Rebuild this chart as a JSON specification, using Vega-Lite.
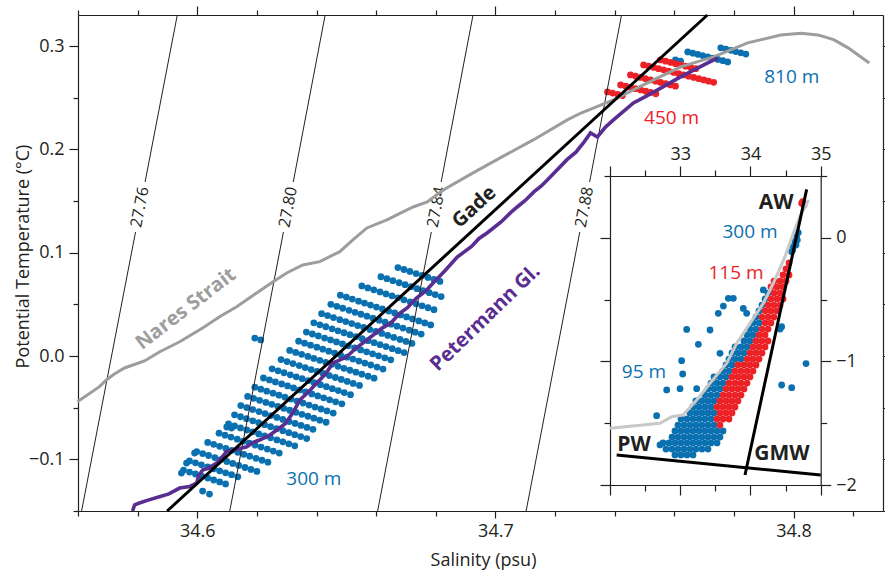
{
"$schema":"https://vega.github.io/schema/vega-lite/v6.json",
"width":805,"height":496,
"autosize":{"type":"none"},
"padding":{"left":78,"top":15,"right":2,"bottom":62},
"background":"#ffffff",
"config":{"view":{"stroke":null},"font":"Open Sans",
 "axis":{"domainColor":"#231f20","tickColor":"#231f20","domainWidth":1.2,"tickWidth":1.2,"labelColor":"#231f20","labelFontSize":18,"labelFont":"Open Sans","grid":false,"labelOverlap":false,"labelFlush":false,"titleFont":"Open Sans","titleFontSize":18,"titleFontWeight":"normal","titleColor":"#231f20"}},
"datasets":{
"iso":[
{"id":"a1","s":34.5612,"t":-0.15},{"id":"a1","s":34.5793,"t":0.12},
{"id":"a2","s":34.5825,"t":0.1684},{"id":"a2","s":34.5933,"t":0.33},
{"id":"b1","s":34.6109,"t":-0.15},{"id":"b1","s":34.6289,"t":0.12},
{"id":"b2","s":34.6322,"t":0.1684},{"id":"b2","s":34.6429,"t":0.33},
{"id":"c1","s":34.6605,"t":-0.15},{"id":"c1","s":34.6785,"t":0.12},
{"id":"c2","s":34.6818,"t":0.1684},{"id":"c2","s":34.6925,"t":0.33},
{"id":"d1","s":34.7103,"t":-0.15},{"id":"d1","s":34.7283,"t":0.12},
{"id":"d2","s":34.7316,"t":0.1684},{"id":"d2","s":34.7423,"t":0.33}],
"iso_lab":[{"s":34.5808,"t":0.144,"label":"27.76"},{"s":34.6305,"t":0.144,"label":"27.80"},{"s":34.6802,"t":0.144,"label":"27.84"},{"s":34.7299,"t":0.144,"label":"27.88"}],
"gade":[{"s":34.5899,"t":-0.15},{"s":34.7711,"t":0.33}],
"nares":[
{"s":34.5598,"t":-0.0442},{"s":34.5672,"t":-0.0297},{"s":34.5695,"t":-0.0232},{"s":34.5722,"t":-0.0174},{"s":34.5756,"t":-0.0116},{"s":34.5823,"t":-0.0048},{"s":34.5873,"t":0.0039},{"s":34.5941,"t":0.0138},{"s":34.6018,"t":0.0271},{"s":34.6075,"t":0.038},{"s":34.6132,"t":0.0477},{"s":34.6199,"t":0.061},{"s":34.6253,"t":0.0716},{"s":34.63,"t":0.0803},{"s":34.6354,"t":0.0881},{"s":34.6411,"t":0.0913},{"s":34.6478,"t":0.101},{"s":34.6522,"t":0.1123},{"s":34.6569,"t":0.1239},{"s":34.6636,"t":0.1317},{"s":34.6724,"t":0.1442},{"s":34.6771,"t":0.1491},{"s":34.6825,"t":0.1607},{"s":34.6925,"t":0.1772},{"s":34.7016,"t":0.1917},{"s":34.7127,"t":0.2091},{"s":34.7241,"t":0.2285},{"s":34.7285,"t":0.2349},{"s":34.7396,"t":0.2478},{"s":34.751,"t":0.2643},{"s":34.7621,"t":0.2798},{"s":34.7732,"t":0.2894},{"s":34.7846,"t":0.303},{"s":34.7957,"t":0.3107},{"s":34.8025,"t":0.3124},{"s":34.8082,"t":0.3107},{"s":34.8102,"t":0.3091},{"s":34.8136,"t":0.3059},{"s":34.8183,"t":0.2982},{"s":34.8254,"t":0.2836}],
"peter":[
{"s":34.5783,"t":-0.15},{"s":34.579,"t":-0.144},{"s":34.5806,"t":-0.1423},{"s":34.5835,"t":-0.1395},{"s":34.5873,"t":-0.1362},{"s":34.5905,"t":-0.1335},{"s":34.5941,"t":-0.1278},{"s":34.5975,"t":-0.1262},{"s":34.5998,"t":-0.1229},{"s":34.6005,"t":-0.116},{"s":34.6018,"t":-0.1104},{"s":34.604,"t":-0.1082},{"s":34.6065,"t":-0.1036},{"s":34.608,"t":-0.099},{"s":34.6098,"t":-0.0926},{"s":34.613,"t":-0.0905},{"s":34.6166,"t":-0.0878},{"s":34.6185,"t":-0.0838},{"s":34.6209,"t":-0.0813},{"s":34.624,"t":-0.0772},{"s":34.6267,"t":-0.0716},{"s":34.6295,"t":-0.0655},{"s":34.632,"t":-0.0552},{"s":34.6344,"t":-0.0426},{"s":34.637,"t":-0.0355},{"s":34.6401,"t":-0.0261},{"s":34.643,"t":-0.0175},{"s":34.6455,"t":-0.0068},{"s":34.65,"t":-0.001},{"s":34.6535,"t":0.0082},{"s":34.6569,"t":0.0155},{"s":34.662,"t":0.027},{"s":34.665,"t":0.0322},{"s":34.668,"t":0.0416},{"s":34.6705,"t":0.0468},{"s":34.6735,"t":0.056},{"s":34.6765,"t":0.0625},{"s":34.6791,"t":0.0707},{"s":34.683,"t":0.0822},{"s":34.6872,"t":0.0958},{"s":34.692,"t":0.106},{"s":34.6945,"t":0.1138},{"s":34.6972,"t":0.1191},{"s":34.702,"t":0.13},{"s":34.705,"t":0.1385},{"s":34.7073,"t":0.1442},{"s":34.71,"t":0.1505},{"s":34.713,"t":0.159},{"s":34.7155,"t":0.1648},{"s":34.7184,"t":0.1733},{"s":34.724,"t":0.19},{"s":34.727,"t":0.1972},{"s":34.7295,"t":0.2062},{"s":34.7319,"t":0.2159},{"s":34.7342,"t":0.212},{"s":34.737,"t":0.2218},{"s":34.7396,"t":0.2285},{"s":34.7463,"t":0.2449},{"s":34.75,"t":0.2505},{"s":34.7544,"t":0.2575},{"s":34.7621,"t":0.2701},{"s":34.7699,"t":0.2817},{"s":34.7746,"t":0.2885}],
"blue_main":[
{"s":34.5954,"t":-0.1104},{"s":34.5974,"t":-0.1123},{"s":34.5994,"t":-0.1142},{"s":34.6015,"t":-0.1162},{"s":34.6035,"t":-0.1181},{"s":34.6055,"t":-0.12},{"s":34.6075,"t":-0.1219},{"s":34.6095,"t":-0.1238},
{"s":34.5974,"t":-0.1015},{"s":34.5994,"t":-0.1034},{"s":34.6014,"t":-0.1053},{"s":34.6035,"t":-0.1073},{"s":34.6055,"t":-0.1092},{"s":34.6075,"t":-0.1111},{"s":34.6095,"t":-0.113},{"s":34.6115,"t":-0.1149},{"s":34.6136,"t":-0.1169},
{"s":34.5998,"t":-0.0925},{"s":34.6018,"t":-0.0944},{"s":34.6038,"t":-0.0963},{"s":34.6059,"t":-0.0983},{"s":34.6079,"t":-0.1002},{"s":34.6099,"t":-0.1021},{"s":34.6119,"t":-0.104},{"s":34.6139,"t":-0.1059},{"s":34.616,"t":-0.1079},{"s":34.618,"t":-0.1098},{"s":34.62,"t":-0.1117},
{"s":34.6035,"t":-0.0836},{"s":34.6055,"t":-0.0855},{"s":34.6075,"t":-0.0874},{"s":34.6096,"t":-0.0894},{"s":34.6116,"t":-0.0913},{"s":34.6136,"t":-0.0932},{"s":34.6156,"t":-0.0951},{"s":34.6176,"t":-0.097},{"s":34.6197,"t":-0.099},{"s":34.6217,"t":-0.1009},{"s":34.6237,"t":-0.1028},
{"s":34.6073,"t":-0.0747},{"s":34.6093,"t":-0.0766},{"s":34.6113,"t":-0.0785},{"s":34.6134,"t":-0.0805},{"s":34.6154,"t":-0.0824},{"s":34.6174,"t":-0.0843},{"s":34.6194,"t":-0.0862},{"s":34.6214,"t":-0.0881},{"s":34.6235,"t":-0.0901},{"s":34.6255,"t":-0.092},{"s":34.6275,"t":-0.0939},
{"s":34.6105,"t":-0.0658},{"s":34.6125,"t":-0.0677},{"s":34.6145,"t":-0.0696},{"s":34.6166,"t":-0.0716},{"s":34.6186,"t":-0.0735},{"s":34.6206,"t":-0.0754},{"s":34.6226,"t":-0.0773},{"s":34.6246,"t":-0.0792},{"s":34.6267,"t":-0.0812},{"s":34.6287,"t":-0.0831},{"s":34.6307,"t":-0.085},{"s":34.6327,"t":-0.0869},
{"s":34.6125,"t":-0.0569},{"s":34.6145,"t":-0.0588},{"s":34.6165,"t":-0.0607},{"s":34.6186,"t":-0.0627},{"s":34.6206,"t":-0.0646},{"s":34.6226,"t":-0.0665},{"s":34.6246,"t":-0.0684},{"s":34.6266,"t":-0.0703},{"s":34.6287,"t":-0.0723},{"s":34.6307,"t":-0.0742},{"s":34.6327,"t":-0.0761},{"s":34.6347,"t":-0.078},{"s":34.6367,"t":-0.0799},
{"s":34.6146,"t":-0.048},{"s":34.6166,"t":-0.0499},{"s":34.6186,"t":-0.0518},{"s":34.6207,"t":-0.0538},{"s":34.6227,"t":-0.0557},{"s":34.6247,"t":-0.0576},{"s":34.6267,"t":-0.0595},{"s":34.6287,"t":-0.0614},{"s":34.6308,"t":-0.0634},{"s":34.6328,"t":-0.0653},{"s":34.6348,"t":-0.0672},{"s":34.6368,"t":-0.0691},{"s":34.6388,"t":-0.071},
{"s":34.6169,"t":-0.0391},{"s":34.6189,"t":-0.041},{"s":34.6209,"t":-0.0429},{"s":34.623,"t":-0.0449},{"s":34.625,"t":-0.0468},{"s":34.627,"t":-0.0487},{"s":34.629,"t":-0.0506},{"s":34.631,"t":-0.0525},{"s":34.6331,"t":-0.0545},{"s":34.6351,"t":-0.0564},{"s":34.6371,"t":-0.0583},{"s":34.6391,"t":-0.0602},{"s":34.6411,"t":-0.0621},{"s":34.6432,"t":-0.0641},
{"s":34.6193,"t":-0.0302},{"s":34.6213,"t":-0.0321},{"s":34.6233,"t":-0.034},{"s":34.6254,"t":-0.036},{"s":34.6274,"t":-0.0379},{"s":34.6294,"t":-0.0398},{"s":34.6314,"t":-0.0417},{"s":34.6334,"t":-0.0436},{"s":34.6355,"t":-0.0456},{"s":34.6375,"t":-0.0475},{"s":34.6395,"t":-0.0494},{"s":34.6415,"t":-0.0513},{"s":34.6435,"t":-0.0532},{"s":34.6456,"t":-0.0552},
{"s":34.6222,"t":-0.0213},{"s":34.6242,"t":-0.0232},{"s":34.6262,"t":-0.0251},{"s":34.6283,"t":-0.0271},{"s":34.6303,"t":-0.029},{"s":34.6323,"t":-0.0309},{"s":34.6343,"t":-0.0328},{"s":34.6363,"t":-0.0347},{"s":34.6384,"t":-0.0367},{"s":34.6404,"t":-0.0386},{"s":34.6424,"t":-0.0405},{"s":34.6444,"t":-0.0424},{"s":34.6464,"t":-0.0443},{"s":34.6485,"t":-0.0463},
{"s":34.6251,"t":-0.0124},{"s":34.6271,"t":-0.0143},{"s":34.6291,"t":-0.0162},{"s":34.6312,"t":-0.0182},{"s":34.6332,"t":-0.0201},{"s":34.6352,"t":-0.022},{"s":34.6372,"t":-0.0239},{"s":34.6392,"t":-0.0258},{"s":34.6413,"t":-0.0278},{"s":34.6433,"t":-0.0297},{"s":34.6453,"t":-0.0316},{"s":34.6473,"t":-0.0335},{"s":34.6493,"t":-0.0354},{"s":34.6514,"t":-0.0374},
{"s":34.6281,"t":-0.0035},{"s":34.6301,"t":-0.0054},{"s":34.6321,"t":-0.0073},{"s":34.6342,"t":-0.0093},{"s":34.6362,"t":-0.0112},{"s":34.6382,"t":-0.0131},{"s":34.6402,"t":-0.015},{"s":34.6422,"t":-0.0169},{"s":34.6443,"t":-0.0189},{"s":34.6463,"t":-0.0208},{"s":34.6483,"t":-0.0227},{"s":34.6503,"t":-0.0246},{"s":34.6523,"t":-0.0265},{"s":34.6544,"t":-0.0285},
{"s":34.631,"t":0.0054},{"s":34.633,"t":0.0035},{"s":34.635,"t":0.0016},{"s":34.6371,"t":-0.0004},{"s":34.6391,"t":-0.0023},{"s":34.6411,"t":-0.0042},{"s":34.6431,"t":-0.0061},{"s":34.6451,"t":-0.008},{"s":34.6472,"t":-0.01},{"s":34.6492,"t":-0.0119},{"s":34.6512,"t":-0.0138},{"s":34.6532,"t":-0.0157},{"s":34.6552,"t":-0.0176},{"s":34.6573,"t":-0.0196},{"s":34.6593,"t":-0.0215},
{"s":34.634,"t":0.0143},{"s":34.636,"t":0.0124},{"s":34.638,"t":0.0105},{"s":34.6401,"t":0.0085},{"s":34.6421,"t":0.0066},{"s":34.6441,"t":0.0047},{"s":34.6461,"t":0.0028},{"s":34.6481,"t":0.0009},{"s":34.6502,"t":-0.0011},{"s":34.6522,"t":-0.003},{"s":34.6542,"t":-0.0049},{"s":34.6562,"t":-0.0068},{"s":34.6582,"t":-0.0087},{"s":34.6603,"t":-0.0107},{"s":34.6623,"t":-0.0126},
{"s":34.6366,"t":0.0232},{"s":34.6386,"t":0.0213},{"s":34.6406,"t":0.0194},{"s":34.6427,"t":0.0174},{"s":34.6447,"t":0.0155},{"s":34.6467,"t":0.0136},{"s":34.6487,"t":0.0117},{"s":34.6507,"t":0.0098},{"s":34.6528,"t":0.0078},{"s":34.6548,"t":0.0059},{"s":34.6568,"t":0.004},{"s":34.6588,"t":0.0021},{"s":34.6608,"t":0.0002},{"s":34.6629,"t":-0.0018},{"s":34.6649,"t":-0.0037},
{"s":34.6391,"t":0.0321},{"s":34.6411,"t":0.0302},{"s":34.6431,"t":0.0283},{"s":34.6452,"t":0.0263},{"s":34.6472,"t":0.0244},{"s":34.6492,"t":0.0225},{"s":34.6512,"t":0.0206},{"s":34.6532,"t":0.0187},{"s":34.6553,"t":0.0167},{"s":34.6573,"t":0.0148},{"s":34.6593,"t":0.0129},{"s":34.6613,"t":0.011},{"s":34.6633,"t":0.0091},{"s":34.6654,"t":0.0071},{"s":34.6674,"t":0.0052},{"s":34.6694,"t":0.0033},
{"s":34.6417,"t":0.041},{"s":34.6437,"t":0.0391},{"s":34.6457,"t":0.0372},{"s":34.6478,"t":0.0352},{"s":34.6498,"t":0.0333},{"s":34.6518,"t":0.0314},{"s":34.6538,"t":0.0295},{"s":34.6558,"t":0.0276},{"s":34.6579,"t":0.0256},{"s":34.6599,"t":0.0237},{"s":34.6619,"t":0.0218},{"s":34.6639,"t":0.0199},{"s":34.6659,"t":0.018},{"s":34.668,"t":0.016},{"s":34.67,"t":0.0141},{"s":34.672,"t":0.0122},
{"s":34.6448,"t":0.05},{"s":34.6468,"t":0.0481},{"s":34.6488,"t":0.0462},{"s":34.6509,"t":0.0442},{"s":34.6529,"t":0.0423},{"s":34.6549,"t":0.0404},{"s":34.6569,"t":0.0385},{"s":34.6589,"t":0.0366},{"s":34.661,"t":0.0346},{"s":34.663,"t":0.0327},{"s":34.665,"t":0.0308},{"s":34.667,"t":0.0289},{"s":34.669,"t":0.027},{"s":34.6711,"t":0.025},{"s":34.6731,"t":0.0231},{"s":34.6751,"t":0.0212},
{"s":34.648,"t":0.0589},{"s":34.65,"t":0.057},{"s":34.652,"t":0.0551},{"s":34.6541,"t":0.0531},{"s":34.6561,"t":0.0512},{"s":34.6581,"t":0.0493},{"s":34.6601,"t":0.0474},{"s":34.6621,"t":0.0455},{"s":34.6642,"t":0.0435},{"s":34.6662,"t":0.0416},{"s":34.6682,"t":0.0397},{"s":34.6702,"t":0.0378},{"s":34.6722,"t":0.0359},{"s":34.6743,"t":0.0339},{"s":34.6763,"t":0.032},{"s":34.6783,"t":0.0301},
{"s":34.6552,"t":0.0678},{"s":34.6572,"t":0.0659},{"s":34.6592,"t":0.064},{"s":34.6613,"t":0.062},{"s":34.6633,"t":0.0601},{"s":34.6653,"t":0.0582},{"s":34.6673,"t":0.0563},{"s":34.6693,"t":0.0544},{"s":34.6714,"t":0.0524},{"s":34.6734,"t":0.0505},{"s":34.6754,"t":0.0486},{"s":34.6774,"t":0.0467},{"s":34.6794,"t":0.0448},
{"s":34.6616,"t":0.0767},{"s":34.6636,"t":0.0748},{"s":34.6656,"t":0.0729},{"s":34.6677,"t":0.0709},{"s":34.6697,"t":0.069},{"s":34.6717,"t":0.0671},{"s":34.6737,"t":0.0652},{"s":34.6757,"t":0.0633},{"s":34.6778,"t":0.0613},{"s":34.6798,"t":0.0594},{"s":34.6818,"t":0.0575},
{"s":34.6673,"t":0.0856},{"s":34.6693,"t":0.0837},{"s":34.6713,"t":0.0818},{"s":34.6734,"t":0.0798},{"s":34.6754,"t":0.0779},{"s":34.6774,"t":0.076},{"s":34.6794,"t":0.0741},{"s":34.6814,"t":0.0722},
{"s":34.6193,"t":0.0174},{"s":34.6213,"t":0.0155},{"s":34.6018,"t":-0.1307},{"s":34.6041,"t":-0.1336},{"s":34.5991,"t":-0.0939},{"s":34.6099,"t":-0.0687},{"s":34.6115,"t":-0.0697},{"s":34.5964,"t":-0.1036},{"s":34.5947,"t":-0.1133},
{"s":34.7604,"t":0.2865},{"s":34.7621,"t":0.2853},
{"s":34.7645,"t":0.2943},{"s":34.7662,"t":0.2931},{"s":34.7679,"t":0.2919},{"s":34.7695,"t":0.2907},{"s":34.7712,"t":0.2895},{"s":34.7729,"t":0.2883},{"s":34.7746,"t":0.287},{"s":34.7763,"t":0.2858},{"s":34.7779,"t":0.2846},
{"s":34.7756,"t":0.2982},{"s":34.7773,"t":0.297},{"s":34.779,"t":0.2958},{"s":34.7806,"t":0.2946},{"s":34.7823,"t":0.2934},{"s":34.784,"t":0.2922}],
"red_main":[
{"s":34.7376,"t":0.2556},{"s":34.7393,"t":0.2544},{"s":34.741,"t":0.2532},{"s":34.7426,"t":0.252},
{"s":34.742,"t":0.2623},{"s":34.7437,"t":0.2611},{"s":34.7454,"t":0.2599},{"s":34.747,"t":0.2587},{"s":34.7487,"t":0.2575},{"s":34.7504,"t":0.2563},{"s":34.7521,"t":0.255},{"s":34.7538,"t":0.2538},
{"s":34.7453,"t":0.272},{"s":34.747,"t":0.2708},{"s":34.7487,"t":0.2696},{"s":34.7503,"t":0.2684},{"s":34.752,"t":0.2672},{"s":34.7537,"t":0.266},{"s":34.7554,"t":0.2647},{"s":34.7571,"t":0.2635},{"s":34.7587,"t":0.2623},{"s":34.7604,"t":0.2611},
{"s":34.7497,"t":0.2817},{"s":34.7514,"t":0.2805},{"s":34.7531,"t":0.2793},{"s":34.7547,"t":0.2781},{"s":34.7564,"t":0.2769},{"s":34.7581,"t":0.2757},{"s":34.7598,"t":0.2744},{"s":34.7615,"t":0.2732},{"s":34.7631,"t":0.272},{"s":34.7648,"t":0.2708},{"s":34.7665,"t":0.2696},{"s":34.7682,"t":0.2684},{"s":34.7699,"t":0.2672},{"s":34.7715,"t":0.266},{"s":34.7732,"t":0.2648},
{"s":34.7554,"t":0.2865},{"s":34.7571,"t":0.2853},{"s":34.7588,"t":0.2841},{"s":34.7604,"t":0.2829},{"s":34.7621,"t":0.2817},{"s":34.7638,"t":0.2805},{"s":34.7655,"t":0.2792},{"s":34.7672,"t":0.278}],
"lab_blue":[{"s":34.7994,"t":0.2701,"label":"810 m"},{"s":34.6391,"t":-0.1191,"label":"300 m"}],
"lab_red":[{"s":34.7591,"t":0.2304,"label":"450 m"}],
"lab_gade":[{"s":34.6929,"t":0.1442,"label":"Gade"}],
"lab_nares":[{"s":34.5962,"t":0.0455,"label":"Nares Strait"}],
"lab_peter":[{"s":34.6966,"t":0.0368,"label":"Petermann Gl."}],
"in_blue":[
{"s":32.925,"t":-1.757},{"s":33.011,"t":-1.757},{"s":33.096,"t":-1.757},{"s":33.182,"t":-1.757},
{"s":32.797,"t":-1.709},{"s":32.883,"t":-1.709},{"s":32.968,"t":-1.709},{"s":33.054,"t":-1.709},{"s":33.139,"t":-1.709},{"s":33.224,"t":-1.709},{"s":33.31,"t":-1.709},{"s":33.395,"t":-1.709},
{"s":32.755,"t":-1.66},{"s":32.84,"t":-1.66},{"s":32.925,"t":-1.66},{"s":33.011,"t":-1.66},{"s":33.096,"t":-1.66},{"s":33.182,"t":-1.66},{"s":33.267,"t":-1.66},{"s":33.353,"t":-1.66},{"s":33.438,"t":-1.66},{"s":33.524,"t":-1.66},
{"s":32.883,"t":-1.612},{"s":32.968,"t":-1.612},{"s":33.054,"t":-1.612},{"s":33.139,"t":-1.612},{"s":33.224,"t":-1.612},{"s":33.31,"t":-1.612},{"s":33.395,"t":-1.612},{"s":33.481,"t":-1.612},{"s":33.566,"t":-1.612},
{"s":32.925,"t":-1.563},{"s":33.011,"t":-1.563},{"s":33.096,"t":-1.563},{"s":33.182,"t":-1.563},{"s":33.267,"t":-1.563},{"s":33.353,"t":-1.563},{"s":33.438,"t":-1.563},{"s":33.524,"t":-1.563},{"s":33.609,"t":-1.563},
{"s":32.968,"t":-1.515},{"s":33.054,"t":-1.515},{"s":33.139,"t":-1.515},{"s":33.224,"t":-1.515},{"s":33.31,"t":-1.515},{"s":33.395,"t":-1.515},{"s":33.481,"t":-1.515},
{"s":33.011,"t":-1.466},{"s":33.096,"t":-1.466},{"s":33.182,"t":-1.466},{"s":33.267,"t":-1.466},{"s":33.353,"t":-1.466},{"s":33.438,"t":-1.466},
{"s":33.139,"t":-1.417},{"s":33.224,"t":-1.417},{"s":33.31,"t":-1.417},{"s":33.395,"t":-1.417},{"s":33.481,"t":-1.417},
{"s":33.182,"t":-1.369},{"s":33.267,"t":-1.369},{"s":33.353,"t":-1.369},{"s":33.438,"t":-1.369},
{"s":33.224,"t":-1.32},{"s":33.31,"t":-1.32},{"s":33.395,"t":-1.32},{"s":33.481,"t":-1.32},
{"s":33.353,"t":-1.272},{"s":33.438,"t":-1.272},{"s":33.524,"t":-1.272},
{"s":33.395,"t":-1.223},{"s":33.481,"t":-1.223},{"s":33.566,"t":-1.223},
{"s":33.438,"t":-1.175},{"s":33.524,"t":-1.175},{"s":33.609,"t":-1.175},
{"s":33.481,"t":-1.126},{"s":33.566,"t":-1.126},{"s":33.652,"t":-1.126},
{"s":33.609,"t":-1.078},{"s":33.694,"t":-1.078},
{"s":33.652,"t":-1.029},{"s":33.737,"t":-1.029},
{"s":33.694,"t":-0.981},{"s":33.78,"t":-0.981},{"s":33.865,"t":-0.981},
{"s":33.737,"t":-0.932},{"s":33.822,"t":-0.932},{"s":33.908,"t":-0.932},
{"s":33.78,"t":-0.883},{"s":33.865,"t":-0.883},{"s":33.951,"t":-0.883},
{"s":33.908,"t":-0.835},{"s":33.993,"t":-0.835},
{"s":33.951,"t":-0.786},{"s":34.036,"t":-0.786},
{"s":33.993,"t":-0.738},{"s":34.079,"t":-0.738},{"s":34.421,"t":-0.738},
{"s":34.036,"t":-0.689},{"s":34.122,"t":-0.689},
{"s":34.079,"t":-0.641},{"s":34.122,"t":-0.592},{"s":34.164,"t":-0.544},{"s":34.207,"t":-0.495},{"s":34.25,"t":-0.447},
{"s":34.587,"t":-0.112},{"s":34.61,"t":-0.072},{"s":34.634,"t":-0.031},{"s":34.658,"t":0.009},{"s":34.681,"t":0.042},{"s":34.648,"t":-0.058},{"s":34.601,"t":-0.099},{"s":34.667,"t":-0.018},
{"s":33.092,"t":-0.741},{"s":33.424,"t":-0.746},{"s":33.258,"t":-0.862},{"s":33.02,"t":-0.994},{"s":33.035,"t":-1.102},{"s":32.807,"t":-1.231},{"s":32.997,"t":-1.221},{"s":33.234,"t":-1.221},{"s":32.664,"t":-1.439},{"s":32.712,"t":-1.676},{"s":33.566,"t":-0.935},{"s":33.685,"t":-0.49},{"s":33.756,"t":-0.49},{"s":33.614,"t":-0.552},{"s":33.542,"t":-0.611},{"s":33.898,"t":-0.571},{"s":33.946,"t":-0.611},{"s":34.183,"t":-0.422},{"s":34.444,"t":-1.191},{"s":34.587,"t":-1.213},{"s":34.791,"t":-1.018},{"s":34.444,"t":-0.719}],
"in_red":[
{"s":33.566,"t":-1.515},
{"s":33.524,"t":-1.466},{"s":33.609,"t":-1.466},{"s":33.694,"t":-1.466},
{"s":33.566,"t":-1.417},{"s":33.652,"t":-1.417},{"s":33.737,"t":-1.417},
{"s":33.524,"t":-1.369},{"s":33.609,"t":-1.369},{"s":33.694,"t":-1.369},{"s":33.78,"t":-1.369},
{"s":33.566,"t":-1.32},{"s":33.652,"t":-1.32},{"s":33.737,"t":-1.32},{"s":33.822,"t":-1.32},
{"s":33.609,"t":-1.272},{"s":33.694,"t":-1.272},{"s":33.78,"t":-1.272},{"s":33.865,"t":-1.272},
{"s":33.652,"t":-1.223},{"s":33.737,"t":-1.223},{"s":33.822,"t":-1.223},{"s":33.908,"t":-1.223},
{"s":33.694,"t":-1.175},{"s":33.78,"t":-1.175},{"s":33.865,"t":-1.175},{"s":33.951,"t":-1.175},
{"s":33.737,"t":-1.126},{"s":33.822,"t":-1.126},{"s":33.908,"t":-1.126},{"s":33.993,"t":-1.126},
{"s":33.78,"t":-1.078},{"s":33.865,"t":-1.078},{"s":33.951,"t":-1.078},{"s":34.036,"t":-1.078},
{"s":33.822,"t":-1.029},{"s":33.908,"t":-1.029},{"s":33.993,"t":-1.029},{"s":34.079,"t":-1.029},
{"s":33.951,"t":-0.981},{"s":34.036,"t":-0.981},{"s":34.122,"t":-0.981},
{"s":33.993,"t":-0.932},{"s":34.079,"t":-0.932},{"s":34.164,"t":-0.932},
{"s":34.036,"t":-0.883},{"s":34.122,"t":-0.883},{"s":34.207,"t":-0.883},
{"s":34.079,"t":-0.835},{"s":34.164,"t":-0.835},{"s":34.25,"t":-0.835},
{"s":34.122,"t":-0.786},{"s":34.207,"t":-0.786},
{"s":34.164,"t":-0.738},{"s":34.25,"t":-0.738},
{"s":34.207,"t":-0.689},{"s":34.292,"t":-0.689},
{"s":34.164,"t":-0.641},{"s":34.25,"t":-0.641},{"s":34.335,"t":-0.641},
{"s":34.207,"t":-0.592},{"s":34.292,"t":-0.592},{"s":34.378,"t":-0.592},
{"s":34.25,"t":-0.544},{"s":34.335,"t":-0.544},{"s":34.421,"t":-0.544},
{"s":34.292,"t":-0.495},{"s":34.378,"t":-0.495},{"s":34.463,"t":-0.495},
{"s":34.335,"t":-0.447},{"s":34.421,"t":-0.447},
{"s":34.292,"t":-0.398},{"s":34.378,"t":-0.398},{"s":34.463,"t":-0.398},
{"s":34.335,"t":-0.35},{"s":34.421,"t":-0.35},{"s":34.506,"t":-0.35},
{"s":34.463,"t":-0.301},{"s":34.549,"t":-0.301},
{"s":34.506,"t":-0.252},{"s":34.549,"t":-0.204},
{"s":34.729,"t":0.279},{"s":34.762,"t":0.265},{"s":34.743,"t":0.292}],
"in_gray":[
{"s":32.0,"t":-1.541},{"s":32.712,"t":-1.501},{"s":32.879,"t":-1.447},{"s":33.039,"t":-1.434},{"s":33.235,"t":-1.312},{"s":33.424,"t":-1.177},{"s":33.662,"t":-1.015},{"s":33.804,"t":-0.854},{"s":33.993,"t":-0.692},{"s":34.183,"t":-0.53},{"s":34.325,"t":-0.368},{"s":34.492,"t":-0.153},{"s":34.61,"t":0.036},{"s":34.705,"t":0.171},{"s":34.801,"t":0.279},{"s":34.824,"t":0.306}],
"in_lines":[
{"id":"PW","s":32.095,"t":-1.757},{"id":"PW","s":35.0,"t":-1.919},
{"id":"GMW","s":33.922,"t":-1.919},{"id":"GMW","s":34.8,"t":0.392}],
"in_lab_bold":[{"s":34.364,"t":0.282,"label":"AW"},{"s":32.342,"t":-1.676,"label":"PW"},{"s":34.449,"t":-1.749,"label":"GMW"}],
"in_lab_blue":[{"s":33.993,"t":0.047,"label":"300 m"},{"s":32.484,"t":-1.086,"label":"95 m"}],
"in_lab_red":[{"s":33.794,"t":-0.285,"label":"115 m"}]
},
"layer":[
{"layer":[
 {"data":{"name":"blue_main"},"mark":{"type":"circle","color":"#0a70b0","size":46,"opacity":1},
  "encoding":{
   "x":{"field":"s","type":"quantitative","scale":{"domain":[34.56,34.83],"nice":false,"zero":false},
     "axis":{"orient":"bottom","values":[34.56,34.58,34.6,34.62,34.64,34.66,34.68,34.7,34.72,34.74,34.76,34.78,34.8,34.82],
       "labelExpr":"abs(datum.value*10 - round(datum.value*10)) < 0.01 ? format(datum.value, '.1f') : ''",
       "tickSize":{"condition":{"test":"abs(datum.value*10 - round(datum.value*10)) < 0.01","value":7},"value":5},
       "labelPadding":4,"title":"Salinity (psu)","titleX":405,"titleY":54,"titleBaseline":"alphabetic","titleAlign":"center"}},
   "y":{"field":"t","type":"quantitative","scale":{"domain":[-0.15,0.33],"nice":false,"zero":false},
     "axis":{"orient":"left","values":[-0.15,-0.1,-0.05,0,0.05,0.1,0.15,0.2,0.25,0.3],
       "labelExpr":"abs(datum.value*10 - round(datum.value*10)) < 0.01 ? format(datum.value, '.1f') : ''",
       "tickSize":{"condition":{"test":"abs(datum.value*10 - round(datum.value*10)) < 0.01","value":9},"value":5},
       "labelPadding":5,"title":"Potential Temperature (°C)","titleX":-50,"titleY":241,"titleAngle":-90,"titleBaseline":"alphabetic","titleAlign":"center"}}}},
 {"data":{"name":"red_main"},"mark":{"type":"circle","color":"#ec2227","size":46,"opacity":1},
  "encoding":{"x":{"field":"s","type":"quantitative","scale":{"domain":[34.56,34.83],"nice":false,"zero":false},"axis":null},
   "y":{"field":"t","type":"quantitative","scale":{"domain":[-0.15,0.33],"nice":false,"zero":false},"axis":null}}},
 {"data":{"name":"iso"},"mark":{"type":"line","color":"#231f20","strokeWidth":1},
  "encoding":{
   "x":{"field":"s","type":"quantitative","scale":{"domain":[34.56,34.83],"nice":false,"zero":false},
     "axis":{"orient":"top","labels":false,"title":null,"values":[34.56,34.58,34.6,34.62,34.64,34.66,34.68,34.7,34.72,34.74,34.76,34.78,34.8,34.82],
       "tickSize":{"condition":{"test":"abs(datum.value*10 - round(datum.value*10)) < 0.01","value":9},"value":5}}},
   "y":{"field":"t","type":"quantitative","scale":{"domain":[-0.15,0.33],"nice":false,"zero":false},
     "axis":{"orient":"right","labels":false,"title":null,"values":[-0.15,-0.1,-0.05,0,0.05,0.1,0.15,0.2,0.25,0.3],
       "tickSize":{"condition":{"test":"abs(datum.value*10 - round(datum.value*10)) < 0.01","value":9},"value":5}}},
   "detail":{"field":"id"}}},
 {"data":{"name":"iso_lab"},"mark":{"type":"text","angle":-79,"fontSize":16,"color":"#231f20","align":"center","baseline":"middle"},
  "encoding":{"x":{"field":"s","type":"quantitative","scale":{"domain":[34.56,34.83],"nice":false,"zero":false},"axis":null},
   "y":{"field":"t","type":"quantitative","scale":{"domain":[-0.15,0.33],"nice":false,"zero":false},"axis":null},"text":{"field":"label"}}},
 {"data":{"name":"nares"},"mark":{"type":"line","color":"#9d9d9d","strokeWidth":3},
  "encoding":{"x":{"field":"s","type":"quantitative","scale":{"domain":[34.56,34.83],"nice":false,"zero":false},"axis":null},
   "y":{"field":"t","type":"quantitative","scale":{"domain":[-0.15,0.33],"nice":false,"zero":false},"axis":null}}},
 {"data":{"name":"peter"},"mark":{"type":"line","color":"#5a2d91","strokeWidth":3.6},
  "encoding":{"x":{"field":"s","type":"quantitative","scale":{"domain":[34.56,34.83],"nice":false,"zero":false},"axis":null},
   "y":{"field":"t","type":"quantitative","scale":{"domain":[-0.15,0.33],"nice":false,"zero":false},"axis":null}}},
 {"data":{"name":"gade"},"mark":{"type":"line","color":"#000000","strokeWidth":3},
  "encoding":{"x":{"field":"s","type":"quantitative","scale":{"domain":[34.56,34.83],"nice":false,"zero":false},"axis":null},
   "y":{"field":"t","type":"quantitative","scale":{"domain":[-0.15,0.33],"nice":false,"zero":false},"axis":null}}},
 {"data":{"name":"lab_blue"},"mark":{"type":"text","fontSize":19,"color":"#0a70b0","align":"center","baseline":"middle"},
  "encoding":{"x":{"field":"s","type":"quantitative","scale":{"domain":[34.56,34.83],"nice":false,"zero":false},"axis":null},
   "y":{"field":"t","type":"quantitative","scale":{"domain":[-0.15,0.33],"nice":false,"zero":false},"axis":null},"text":{"field":"label"}}},
 {"data":{"name":"lab_red"},"mark":{"type":"text","fontSize":19,"color":"#ec2227","align":"center","baseline":"middle"},
  "encoding":{"x":{"field":"s","type":"quantitative","scale":{"domain":[34.56,34.83],"nice":false,"zero":false},"axis":null},
   "y":{"field":"t","type":"quantitative","scale":{"domain":[-0.15,0.33],"nice":false,"zero":false},"axis":null},"text":{"field":"label"}}},
 {"data":{"name":"lab_gade"},"mark":{"type":"text","fontSize":20,"fontWeight":"bold","angle":-42.6,"color":"#231f20","align":"center","baseline":"middle"},
  "encoding":{"x":{"field":"s","type":"quantitative","scale":{"domain":[34.56,34.83],"nice":false,"zero":false},"axis":null},
   "y":{"field":"t","type":"quantitative","scale":{"domain":[-0.15,0.33],"nice":false,"zero":false},"axis":null},"text":{"field":"label"}}},
 {"data":{"name":"lab_nares"},"mark":{"type":"text","fontSize":20,"fontWeight":"bold","angle":-37.5,"color":"#9d9d9d","align":"center","baseline":"middle"},
  "encoding":{"x":{"field":"s","type":"quantitative","scale":{"domain":[34.56,34.83],"nice":false,"zero":false},"axis":null},
   "y":{"field":"t","type":"quantitative","scale":{"domain":[-0.15,0.33],"nice":false,"zero":false},"axis":null},"text":{"field":"label"}}},
 {"data":{"name":"lab_peter"},"mark":{"type":"text","fontSize":20,"fontWeight":"bold","angle":-44,"color":"#5a2d91","align":"center","baseline":"middle"},
  "encoding":{"x":{"field":"s","type":"quantitative","scale":{"domain":[34.56,34.83],"nice":false,"zero":false},"axis":null},
   "y":{"field":"t","type":"quantitative","scale":{"domain":[-0.15,0.33],"nice":false,"zero":false},"axis":null},"text":{"field":"label"}}}
 ],
 "resolve":{"axis":{"x":"independent","y":"independent"}}},
{"layer":[
 {"data":{"name":"in_blue"},"mark":{"type":"circle","color":"#0a70b0","size":46,"opacity":1},
  "encoding":{
   "x":{"field":"s","type":"quantitative","scale":{"domain":[32,35],"range":[532,742.7],"nice":false,"zero":false},
     "axis":{"orient":"top","offset":-161,"values":[32,32.5,33,33.5,34,34.5,35],
       "labelExpr":"(datum.value == 33 || datum.value == 34 || datum.value == 35) ? format(datum.value, 'd') : ''",
       "tickSize":{"condition":{"test":"abs(datum.value - round(datum.value)) < 0.01","value":10},"value":6},
       "labelPadding":3,"title":null}},
   "y":{"field":"t","type":"quantitative","scale":{"domain":[-2,0.5],"range":[470,161],"nice":false,"zero":false},
     "axis":{"orient":"right","offset":-62.3,"values":[-2,-1.5,-1,-0.5,0,0.5],
       "labelExpr":"(datum.value == 0 || datum.value == -1 || datum.value == -2) ? format(datum.value, 'd') : ''",
       "tickSize":{"condition":{"test":"abs(datum.value - round(datum.value)) < 0.01","value":10},"value":6},
       "labelPadding":5,"title":null}}}},
 {"data":{"name":"in_red"},"mark":{"type":"circle","color":"#ec2227","size":46,"opacity":1},
  "encoding":{
   "x":{"field":"s","type":"quantitative","scale":{"domain":[32,35],"range":[532,742.7],"nice":false,"zero":false},
     "axis":{"orient":"bottom","offset":-26,"values":[32,32.5,33,33.5,34,34.5,35],"labels":false,"title":null,
       "tickSize":{"condition":{"test":"abs(datum.value - round(datum.value)) < 0.01","value":10},"value":6}}},
   "y":{"field":"t","type":"quantitative","scale":{"domain":[-2,0.5],"range":[470,161],"nice":false,"zero":false},
     "axis":{"orient":"left","offset":-532,"values":[-2,-1.5,-1,-0.5,0,0.5],"labels":false,"title":null,
       "tickSize":{"condition":{"test":"abs(datum.value - round(datum.value)) < 0.01","value":10},"value":6}}}}},
 {"data":{"name":"in_gray"},"mark":{"type":"line","color":"#c8c8c8","strokeWidth":3},
  "encoding":{"x":{"field":"s","type":"quantitative","scale":{"domain":[32,35],"range":[532,742.7],"nice":false,"zero":false},"axis":null},
   "y":{"field":"t","type":"quantitative","scale":{"domain":[-2,0.5],"range":[470,161],"nice":false,"zero":false},"axis":null}}},
 {"data":{"name":"in_lines"},"mark":{"type":"line","color":"#000000","strokeWidth":3},
  "encoding":{"x":{"field":"s","type":"quantitative","scale":{"domain":[32,35],"range":[532,742.7],"nice":false,"zero":false},"axis":null},
   "y":{"field":"t","type":"quantitative","scale":{"domain":[-2,0.5],"range":[470,161],"nice":false,"zero":false},"axis":null},
   "detail":{"field":"id"}}},
 {"data":{"name":"in_lab_bold"},"mark":{"type":"text","fontSize":21,"fontWeight":"bold","color":"#231f20","align":"center","baseline":"middle"},
  "encoding":{"x":{"field":"s","type":"quantitative","scale":{"domain":[32,35],"range":[532,742.7],"nice":false,"zero":false},"axis":null},
   "y":{"field":"t","type":"quantitative","scale":{"domain":[-2,0.5],"range":[470,161],"nice":false,"zero":false},"axis":null},"text":{"field":"label"}}},
 {"data":{"name":"in_lab_blue"},"mark":{"type":"text","fontSize":19,"color":"#0a70b0","align":"center","baseline":"middle"},
  "encoding":{"x":{"field":"s","type":"quantitative","scale":{"domain":[32,35],"range":[532,742.7],"nice":false,"zero":false},"axis":null},
   "y":{"field":"t","type":"quantitative","scale":{"domain":[-2,0.5],"range":[470,161],"nice":false,"zero":false},"axis":null},"text":{"field":"label"}}},
 {"data":{"name":"in_lab_red"},"mark":{"type":"text","fontSize":19,"color":"#ec2227","align":"center","baseline":"middle"},
  "encoding":{"x":{"field":"s","type":"quantitative","scale":{"domain":[32,35],"range":[532,742.7],"nice":false,"zero":false},"axis":null},
   "y":{"field":"t","type":"quantitative","scale":{"domain":[-2,0.5],"range":[470,161],"nice":false,"zero":false},"axis":null},"text":{"field":"label"}}}
 ],
 "resolve":{"axis":{"x":"independent","y":"independent"}}}
],
"resolve":{"scale":{"x":"independent","y":"independent"},"axis":{"x":"independent","y":"independent"}}
}
